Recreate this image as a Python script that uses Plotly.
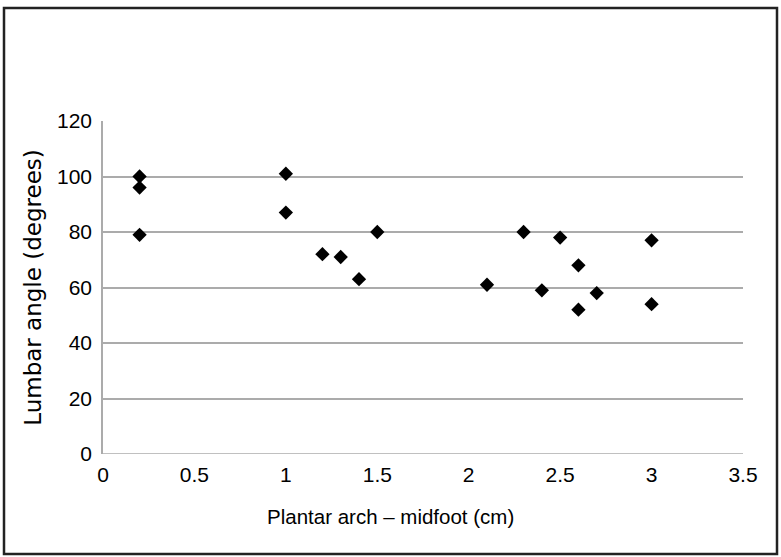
import plotly.graph_objects as go

arch_cm = [0.2, 0.2, 0.2, 1.0, 1.0, 1.2, 1.3, 1.4, 1.5, 2.1, 2.3, 2.4, 2.5, 2.6, 2.6, 2.7, 3.0, 3.0]
lumbar_deg = [100, 96, 79, 101, 87, 72, 71, 63, 80, 61, 80, 59, 78, 68, 52, 58, 77, 54]

x_ticks = [0, 0.5, 1, 1.5, 2, 2.5, 3, 3.5]
x_tick_labels = ["0", "0.5", "1", "1.5", "2", "2.5", "3", "3.5"]
y_ticks = [0, 20, 40, 60, 80, 100, 120]
x_title = "Plantar arch – midfoot (cm)"
y_title = "Lumbar angle (degrees)"

W, H = 781, 557
L, R, T, B = 103, 38, 121, 103
pw, ph = W - L - R, H - T - B


def px_to_paper_x(px):
    return (px - L) / pw


def px_to_paper_y(py):
    return (H - B - py) / ph


fig = go.Figure(go.Scatter(
    x=arch_cm, y=lumbar_deg, mode="markers",
    marker=dict(symbol="diamond", size=11, color="black"),
    hoverinfo="x+y",
))

font = "Liberation Sans, Arial, Helvetica, sans-serif"
fig.update_layout(
    width=W, height=H,
    margin=dict(l=L, r=R, t=T, b=B),
    paper_bgcolor="white", plot_bgcolor="white",
    showlegend=False,
    font=dict(family=font, color="black", size=20),
    xaxis=dict(
        range=[0, 3.5], tickvals=x_ticks, ticktext=x_tick_labels,
        showgrid=False, zeroline=False, showline=False,
        ticks="outside", ticklen=2, tickcolor="rgba(0,0,0,0)",
        tickfont=dict(size=21),
        fixedrange=True,
    ),
    yaxis=dict(
        range=[0, 120], tickvals=y_ticks,
        showgrid=True, gridcolor="#ababab", gridwidth=1.5,
        zeroline=False, showline=True, linecolor="#ababab", linewidth=1.5,
        ticks="outside", ticklen=5, tickcolor="rgba(0,0,0,0)",
        tickfont=dict(size=21),
        title=dict(text=y_title,
                   font=dict(size=23, family="DejaVu Sans, Liberation Sans, sans-serif"),
                   standoff=9),
        fixedrange=True,
    ),
)

# x axis title centred on the whole figure, as in the reference
fig.add_annotation(text=x_title, xref="paper", yref="paper",
                   x=px_to_paper_x(390), y=px_to_paper_y(516),
                   xanchor="center", yanchor="middle", showarrow=False,
                   font=dict(size=20.5, family=font, color="black"))

# bottom axis line (x=0 gridline) spanning plot
fig.add_shape(type="line", xref="paper", yref="y", x0=0, x1=1, y0=0, y1=0,
              line=dict(color="#ababab", width=1.5))

# outer border around whole chart
fig.add_shape(type="rect", xref="paper", yref="paper",
              x0=px_to_paper_x(4), x1=px_to_paper_x(777),
              y0=px_to_paper_y(554), y1=px_to_paper_y(8),
              line=dict(color="#222222", width=2.5), layer="above")

fig.write_html("out.html", config={"displayModeBar": False},
               post_script="document.body.style.margin='0';")
